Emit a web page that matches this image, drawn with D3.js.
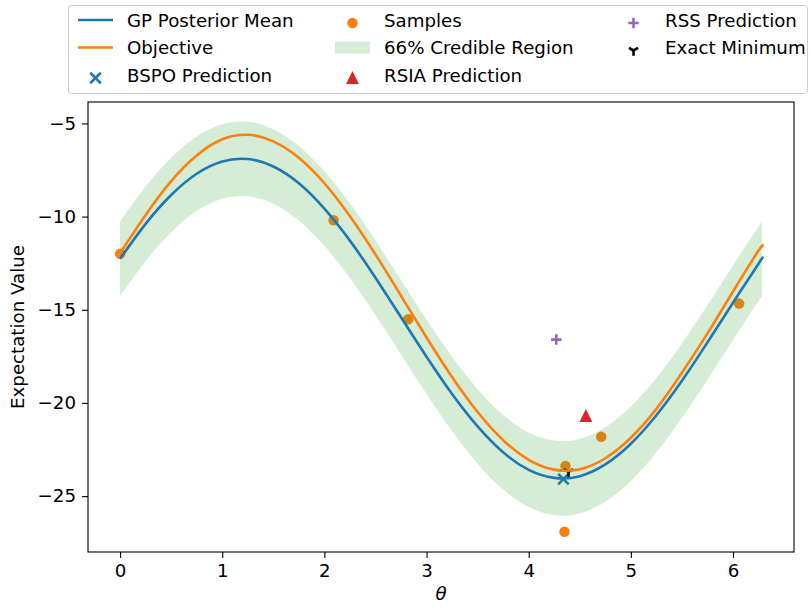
<!DOCTYPE html>
<html>
<head>
<meta charset="utf-8">
<script src="https://cdn.jsdelivr.net/npm/d3@7"></script>
<style>
  body { margin: 0; background: #fff; }
  svg text { font-family: "DejaVu Sans", sans-serif; }
</style>
</head>
<body>
<div id="my_dataviz"></div>
<script>
// theta grid for the curves
var theta = [0, 0.25, 0.5, 0.75, 1.0, 1.25, 1.5, 1.75, 2.0, 2.25, 2.5, 2.75, 3.0, 3.25,
             3.5, 3.75, 4.0, 4.25, 4.5, 4.75, 5.0, 5.25, 5.5, 5.75, 6.0, 6.25, 6.283];
var gpMean = [-12.26, -10.39, -8.84, -7.70, -7.04, -6.91, -7.31, -8.21, -9.57, -11.29, -13.28, -15.40, -17.52, -19.52,
              -21.26, -22.65, -23.59, -24.02, -23.93, -23.30, -22.19, -20.66, -18.81, -16.75, -14.62, -12.53, -12.26];
var bandUpper = [-10.26, -8.39, -6.84, -5.70, -5.04, -4.91, -5.31, -6.21, -7.57, -9.29, -11.28, -13.40, -15.52, -17.52,
                 -19.26, -20.65, -21.59, -22.02, -21.93, -21.30, -20.19, -18.66, -16.81, -14.75, -12.62, -10.53, -10.26];
var bandLower = [-14.26, -12.39, -10.84, -9.70, -9.04, -8.91, -9.31, -10.21, -11.57, -13.29, -15.28, -17.40, -19.52, -21.52,
                 -23.26, -24.65, -25.59, -26.02, -25.93, -25.30, -24.19, -22.66, -20.81, -18.75, -16.62, -14.53, -14.26];
var objective = [-11.96, -9.91, -8.10, -6.72, -5.85, -5.61, -5.96, -6.84, -8.21, -9.98, -12.03, -14.25, -16.49, -18.61,
                 -20.49, -22.00, -23.05, -23.58, -23.56, -22.97, -21.87, -20.32, -18.38, -16.27, -14.02, -11.82, -11.65];

var sampleTheta = [0.0, 2.09, 2.82, 4.35, 4.36, 4.71, 6.06];
var sampleValue = [-12.0, -10.2, -15.51, -26.91, -23.39, -21.82, -14.67];

var bspoPred = [4.34, -24.09];
var rsiaPred = [4.56, -20.7];
var rssPred = [4.27, -16.6];
var exactMin = [4.39, -23.7];

var xTicks = [0, 1, 2, 3, 4, 5, 6];
var yTicks = [-25, -20, -15, -10, -5];

var C_BLUE = "#1f77b4", C_ORANGE = "#ff7f0e", C_GREEN = "#2ca02c",
    C_RED = "#d62728", C_PURPLE = "#9467bd";
var FS = 18.2, MS = 10.5, LW = 2.6;

var margin = {top: 102, right: 16, bottom: 55, left: 88},
    width = 810 - margin.left - margin.right,
    height = 607 - margin.top - margin.bottom;

var root = d3.select("#my_dataviz")
  .append("svg")
    .attr("width", 810)
    .attr("height", 607);
var svg = root.append("g")
    .attr("transform", "translate(" + margin.left + "," + margin.top + ")");

var x = d3.scaleLinear().domain([-0.314, 6.597]).range([0, width]);
var y = d3.scaleLinear().domain([-28.0, -3.85]).range([height, 0]);

var curve = theta.map(function(t, i) {
  return {t: t, mean: gpMean[i], lo: bandLower[i], hi: bandUpper[i], obj: objective[i]};
});
var samples = sampleTheta.map(function(t, i) { return {t: t, v: sampleValue[i]}; });

// marker shapes, centred on 0,0
function markX(g, c) {
  var h = MS / 2;
  g.append("path").attr("d", "M" + (-h) + "," + (-h) + "L" + h + "," + h + "M" + (-h) + "," + h + "L" + h + "," + (-h))
    .attr("stroke", c).attr("stroke-width", LW).attr("fill", "none");
}
function markPlus(g, c) {
  var h = MS / 2;
  g.append("path").attr("d", "M" + (-h) + ",0L" + h + ",0M0," + (-h) + "L0," + h)
    .attr("stroke", c).attr("stroke-width", LW).attr("fill", "none");
}
function markTri(g, c) {
  var h = MS / 2;
  g.append("path").attr("d", "M0," + (-h) + "L" + h + "," + h + "L" + (-h) + "," + h + "Z")
    .attr("fill", c).attr("stroke", c).attr("stroke-width", 1.5);
}
function markTriDown(g, c) {
  var h = MS / 2;
  g.append("path").attr("d", "M0,0L0," + h + "M0,0L" + (-h * 0.866) + "," + (-h * 0.5) + "M0,0L" + (h * 0.866) + "," + (-h * 0.5))
    .attr("stroke", c).attr("stroke-width", LW).attr("fill", "none");
}
function markDot(g, c) {
  g.append("circle").attr("r", MS / 2).attr("fill", c);
}

var plot = svg.append("g");

// scatter layers first (they sit under the band)
plot.selectAll(".sample")
  .data(samples)
  .enter().append("circle")
    .attr("class", "sample")
    .attr("cx", function(d) { return x(d.t); })
    .attr("cy", function(d) { return y(d.v); })
    .attr("r", MS / 2)
    .attr("fill", C_ORANGE);

function putMarker(p, fn, c) {
  var g = plot.append("g").attr("transform", "translate(" + x(p[0]) + "," + y(p[1]) + ")");
  fn(g, c);
}
putMarker(bspoPred, markX, C_BLUE);
putMarker(rsiaPred, markTri, C_RED);
putMarker(rssPred, markPlus, C_PURPLE);
putMarker(exactMin, markTriDown, "#000");

// credible region
plot.append("path")
  .datum(curve)
  .attr("fill", C_GREEN)
  .attr("fill-opacity", 0.2)
  .attr("d", d3.area()
    .curve(d3.curveNatural)
    .x(function(d) { return x(d.t); })
    .y0(function(d) { return y(d.lo); })
    .y1(function(d) { return y(d.hi); }));

// mean and objective
plot.append("path")
  .datum(curve)
  .attr("fill", "none")
  .attr("stroke", C_BLUE)
  .attr("stroke-width", LW)
  .attr("d", d3.line().curve(d3.curveNatural)
    .x(function(d) { return x(d.t); })
    .y(function(d) { return y(d.mean); }));

plot.append("path")
  .datum(curve)
  .attr("fill", "none")
  .attr("stroke", C_ORANGE)
  .attr("stroke-width", LW)
  .attr("d", d3.line().curve(d3.curveNatural)
    .x(function(d) { return x(d.t); })
    .y(function(d) { return y(d.obj); }));

// axes
var xAxis = svg.append("g")
  .attr("transform", "translate(0," + height + ")")
  .call(d3.axisBottom(x).tickValues(xTicks).tickFormat(d3.format("d")).tickSize(6).tickPadding(6).tickSizeOuter(0));
var yAxis = svg.append("g")
  .call(d3.axisLeft(y).tickValues(yTicks).tickFormat(d3.format("d")).tickSize(6).tickPadding(6).tickSizeOuter(0));
[xAxis, yAxis].forEach(function(a) {
  a.select(".domain").remove();
  a.selectAll("text").style("font-size", FS + "px").attr("fill", "#000");
  a.selectAll("line").attr("stroke", "#000").attr("stroke-width", 1.1);
});

svg.append("rect")
  .attr("width", width).attr("height", height)
  .attr("fill", "none").attr("stroke", "#000").attr("stroke-width", 1.1);

// axis labels
svg.append("text")
  .attr("text-anchor", "middle")
  .attr("transform", "translate(" + (24 - margin.left) + "," + (height / 2) + ") rotate(-90)")
  .style("font-size", FS + "px")
  .text("Expectation Value");

svg.append("text")
  .attr("text-anchor", "middle")
  .attr("x", width / 2)
  .attr("y", height + 48)
  .style("font-size", FS + "px")
  .style("font-style", "italic")
  .text("θ");

// legend
var legend = root.append("g");
legend.append("rect")
  .attr("x", 68.5).attr("y", 5.5).attr("width", 739).attr("height", 88).attr("rx", 3)
  .attr("fill", "#fff").attr("fill-opacity", 0.8)
  .attr("stroke", "#cccccc").attr("stroke-width", 1);

var colX = [78, 335, 616], rowY = [20, 47.5, 75], HL = 35;
var entries = [
  {label: "GP Posterior Mean", kind: "line", c: C_BLUE},
  {label: "Objective", kind: "line", c: C_ORANGE},
  {label: "BSPO Prediction", kind: "mark", fn: markX, c: C_BLUE},
  {label: "Samples", kind: "mark", fn: markDot, c: C_ORANGE},
  {label: "66% Credible Region", kind: "patch", c: C_GREEN},
  {label: "RSIA Prediction", kind: "mark", fn: markTri, c: C_RED},
  {label: "RSS Prediction", kind: "mark", fn: markPlus, c: C_PURPLE},
  {label: "Exact Minimum", kind: "mark", fn: markTriDown, c: "#000"}
];
entries.forEach(function(e, i) {
  var cx = colX[Math.floor(i / 3)], cy = rowY[i % 3];
  var g = legend.append("g").attr("transform", "translate(" + cx + "," + cy + ")");
  if (e.kind === "line") {
    g.append("line").attr("x1", 0).attr("x2", HL).attr("stroke", e.c).attr("stroke-width", LW);
  } else if (e.kind === "patch") {
    g.append("rect").attr("x", 0).attr("y", -6).attr("width", HL).attr("height", 12)
      .attr("fill", e.c).attr("fill-opacity", 0.2);
  } else {
    var m = g.append("g").attr("transform", "translate(" + (HL / 2) + ",3)");
    e.fn(m, e.c);
  }
  g.append("text")
    .attr("x", HL + 14)
    .attr("dy", "0.36em")
    .style("font-size", FS + "px")
    .text(e.label);
});
</script>
</body>
</html>
